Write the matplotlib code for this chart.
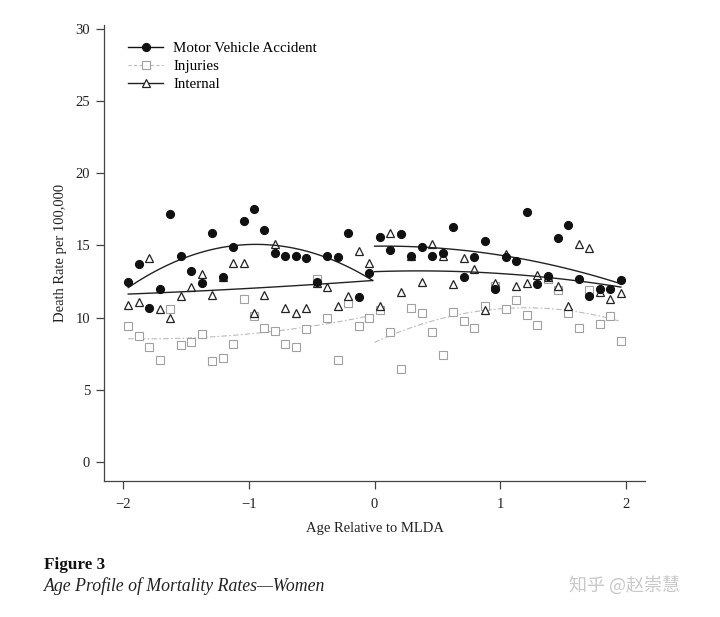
import numpy as np
import matplotlib.pyplot as plt
from matplotlib.lines import Line2D

plt.rcParams['font.family'] = ['Liberation Serif', 'DejaVu Serif']

# monthly cells, 24 months on each side of the drinking age
months_left = np.arange(-24, 0)
months_right = np.arange(0, 24)
age_left = (months_left + 0.5) / 12
age_right = (months_right + 0.5) / 12

# Motor vehicle accident deaths per 100,000
mv_left = [12.5, 13.7, 10.65, 12.0, 17.2, 14.3, 13.2, 12.4, 15.9, 12.8, 14.9, 16.7,
           17.5, 16.1, 14.5, 14.3, 14.3, 14.1, 12.45, 14.3, 14.2, 15.9, 11.4, 13.1]
mv_right = [15.6, 14.7, 15.8, 14.3, 14.9, 14.3, 14.5, 16.3, 12.8, 14.2, 15.3, 12.0,
            14.2, 13.9, 17.3, 12.3, 12.9, 15.5, 16.4, 12.7, 11.5, 12.0, 12.0, 12.6]

# Injuries
inj_left = [9.4, 8.7, 8.0, 7.1, 10.6, 8.1, 8.3, 8.9, 7.0, 7.2, 8.2, 11.3,
            10.1, 9.3, 9.1, 8.2, 8.0, 9.2, 12.7, 9.95, 7.1, 11.0, 9.45, 10.0]
inj_right = [10.5, 9.0, 6.45, 10.7, 10.3, 9.0, 7.4, 10.4, 9.8, 9.3, 10.8, 12.2,
             10.6, 11.2, 10.2, 9.5, 12.7, 11.9, 10.3, 9.3, 11.9, 9.55, 10.1, 8.4]

# Internal causes
int_left = [10.9, 11.1, 14.1, 10.6, 10.0, 11.5, 12.1, 13.05, 11.6, 12.8, 13.8, 13.8,
            10.3, 11.6, 15.1, 10.7, 10.3, 10.7, 12.4, 12.1, 10.8, 11.5, 14.6, 13.8]
int_right = [10.8, 15.9, 11.8, 14.3, 12.5, 15.1, 14.3, 12.3, 14.1, 13.4, 10.5, 12.4,
             14.4, 12.2, 12.4, 12.95, 12.8, 12.2, 10.8, 15.1, 14.85, 11.8, 11.3, 11.7]

sq_grey = '#a0a0a0'
line_grey = '#bbbbbb'

fig = plt.figure(figsize=(7.2, 6.17), dpi=100)
ax = fig.add_axes([0.1444, 0.2204, 0.7516, 0.7391])


def fit_line(x, y, x0, x1):
    # quadratic fit on one side of the cutoff
    coef = np.polyfit(x, y, 2)
    xs = np.linspace(x0, x1, 100)
    return xs, np.polyval(coef, xs)


# injuries (grey open squares, dash-dot fit)
for x, y in [(age_left, inj_left), (age_right, inj_right)]:
    ax.plot(x, y, linestyle='none', marker='s', markersize=5.2, markerfacecolor='white',
            markeredgecolor=sq_grey, markeredgewidth=0.8, zorder=2)
xs, ys = fit_line(age_left, inj_left, age_left[0], -0.015)
ax.plot(xs, ys, color=line_grey, lw=0.8, dashes=(5, 2, 1.5, 2), zorder=1)
xs, ys = fit_line(age_right, inj_right, 0.0, age_right[-1])
ax.plot(xs, ys, color=line_grey, lw=0.8, dashes=(5, 2, 1.5, 2), zorder=1)

# internal (open triangles)
for x, y in [(age_left, int_left), (age_right, int_right)]:
    ax.plot(x, y, linestyle='none', marker='^', markersize=5.8, markerfacecolor='white',
            markeredgecolor='#222222', markeredgewidth=0.9, zorder=3)
xs, ys = fit_line(age_left, int_left, age_left[0], -0.015)
ax.plot(xs, ys, color='#222222', lw=1.0, zorder=4)
xs, ys = fit_line(age_right, int_right, 0.0, age_right[-1])
ax.plot(xs, ys, color='#222222', lw=1.0, zorder=4)

# motor vehicle accidents (filled circles)
for x, y in [(age_left, mv_left), (age_right, mv_right)]:
    ax.plot(x, y, linestyle='none', marker='o', markersize=5.6, color='#111111', zorder=5)
xs, ys = fit_line(age_left, mv_left, age_left[0], -0.015)
ax.plot(xs, ys, color='#222222', lw=1.0, zorder=4)
xs, ys = fit_line(age_right, mv_right, 0.0, age_right[-1])
ax.plot(xs, ys, color='#222222', lw=1.0, zorder=4)

ax.set_xlim(-2.151, 2.151)
ax.set_ylim(-1.32, 30.28)
ax.set_xticks([-2, -1, 0, 1, 2])
ax.set_yticks([0, 5, 10, 15, 20, 25, 30])
for side in ['top', 'right']:
    ax.spines[side].set_visible(False)
for side in ['left', 'bottom']:
    ax.spines[side].set_color('#444444')
    ax.spines[side].set_linewidth(0.9)
ax.tick_params(direction='out', length=6, width=0.9, color='#444444',
               labelsize=10.5, labelcolor='#222222', pad=4)
ax.tick_params(axis='x', pad=6)

ax.set_ylabel('Death Rate per 100,000', fontsize=10.5, color='#222222', labelpad=6)
ax.set_xlabel('Age Relative to MLDA', fontsize=10.5, color='#222222', labelpad=8)

handles = [
    Line2D([], [], color='#111111', lw=1.0, marker='o', markersize=5.6),
    Line2D([], [], color=line_grey, lw=0.8, dashes=(3, 2), marker='s', markersize=5.2,
           markerfacecolor='white', markeredgecolor=sq_grey, markeredgewidth=0.8),
    Line2D([], [], color='#222222', lw=1.0, marker='^', markersize=5.8,
           markerfacecolor='white', markeredgecolor='#222222', markeredgewidth=0.9),
]
ax.legend(handles, ['Motor Vehicle Accident', 'Injuries', 'Internal'],
          loc='upper left', bbox_to_anchor=(0.02, 0.993), frameon=False,
          fontsize=10.8, handlelength=2.3, handletextpad=0.7, labelspacing=0.3)

fig.text(0.061, 0.077, 'Figure 3', fontsize=12.3, fontweight='bold', color='#111111')
fig.text(0.061, 0.042, 'Age Profile of Mortality Rates\u2014Women', fontsize=12.8,
         style='italic', color='#222222')
fig.text(0.79, 0.043, '知乎 @赵崇慧', fontsize=13, color='#c8c8c8',
         family=['Noto Sans CJK SC', 'DejaVu Sans'])

fig.savefig('out.png', dpi=100, facecolor='white')
